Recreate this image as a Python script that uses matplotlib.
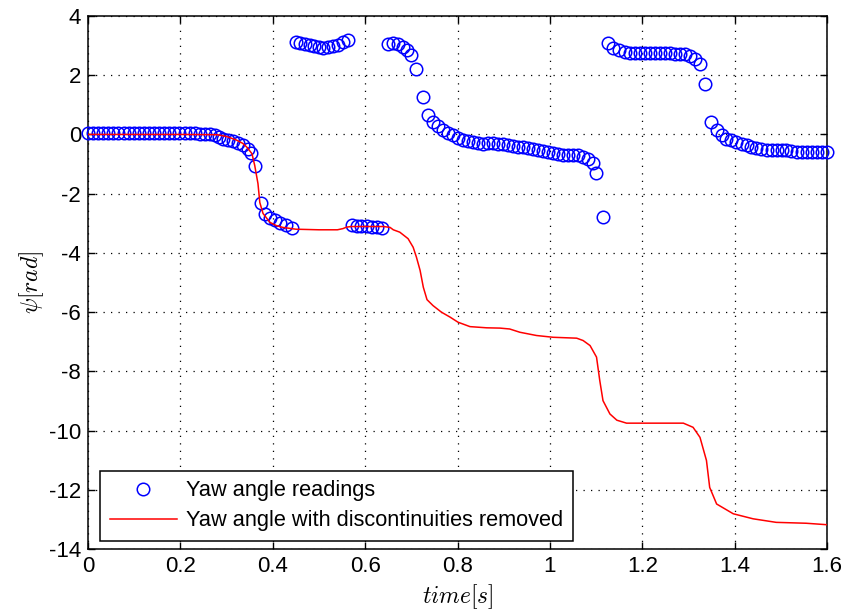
import matplotlib
matplotlib.use('Agg')
from matplotlib import pyplot as plt

# raw yaw readings, wrapped to (-pi, pi]
t_read = [0.000, 0.011, 0.022, 0.033, 0.044, 0.055, 0.066, 0.077, 0.088, 0.099,
          0.110, 0.121, 0.132, 0.143, 0.154, 0.165, 0.176, 0.187, 0.198, 0.209,
          0.220, 0.231, 0.242, 0.253, 0.264, 0.275,
          0.284, 0.293, 0.304, 0.315, 0.325, 0.336, 0.347, 0.354, 0.361, 0.374,
          0.383, 0.394, 0.405, 0.416, 0.429, 0.441,
          0.450, 0.460, 0.470, 0.480, 0.490, 0.500, 0.509, 0.520, 0.531, 0.542,
          0.552, 0.562,
          0.571, 0.582, 0.592, 0.603, 0.614, 0.625, 0.636,
          0.650, 0.661, 0.672, 0.681, 0.690, 0.700, 0.711, 0.726, 0.737, 0.747,
          0.758, 0.769, 0.780, 0.791, 0.801, 0.812, 0.823, 0.834, 0.845, 0.856,
          0.866, 0.877, 0.888, 0.899, 0.910, 0.920, 0.931, 0.942, 0.953, 0.964,
          0.975, 0.985, 0.996, 1.007, 1.018, 1.029, 1.039, 1.050, 1.061, 1.072,
          1.082, 1.093, 1.100, 1.115,
          1.126, 1.137, 1.150, 1.162, 1.173, 1.184, 1.195, 1.206, 1.216, 1.227,
          1.238, 1.249, 1.260, 1.271, 1.281, 1.292, 1.303, 1.314, 1.325, 1.335,
          1.348, 1.361, 1.372, 1.382, 1.393, 1.404, 1.415, 1.426, 1.436, 1.447,
          1.458, 1.469, 1.480, 1.491, 1.502, 1.512, 1.523, 1.534, 1.545, 1.556,
          1.567, 1.578, 1.589, 1.600]
yaw_read = [0.05, 0.05, 0.05, 0.05, 0.04, 0.05, 0.04, 0.05, 0.05, 0.04,
            0.05, 0.05, 0.04, 0.05, 0.05, 0.04, 0.05, 0.04, 0.05, 0.04,
            0.04, 0.04, 0.03, 0.03, 0.02, -0.02,
            -0.07, -0.15, -0.18, -0.23, -0.28, -0.37, -0.48, -0.63, -1.05, -2.32,
            -2.68, -2.81, -2.90, -3.00, -3.07, -3.15,
            3.12, 3.10, 3.06, 3.03, 2.98, 2.95, 2.92, 2.95, 3.00, 3.03,
            3.12, 3.18,
            -3.05, -3.10, -3.10, -3.10, -3.12, -3.12, -3.15,
            3.06, 3.09, 3.04, 2.95, 2.84, 2.67, 2.22, 1.28, 0.64, 0.42,
            0.27, 0.14, 0.04, -0.03, -0.11, -0.18, -0.23, -0.26, -0.29, -0.31,
            -0.30, -0.30, -0.31, -0.31, -0.34, -0.40, -0.42, -0.42, -0.45, -0.48,
            -0.52, -0.57, -0.60, -0.63, -0.65, -0.68, -0.68, -0.68, -0.68, -0.75,
            -0.83, -0.97, -1.31, -2.79,
            3.09, 2.93, 2.84, 2.78, 2.75, 2.75, 2.75, 2.75, 2.75, 2.75,
            2.75, 2.75, 2.74, 2.72, 2.72, 2.70, 2.64, 2.56, 2.39, 1.71,
            0.42, 0.14, -0.03, -0.15, -0.20, -0.26, -0.31, -0.37, -0.43, -0.45,
            -0.48, -0.52, -0.54, -0.54, -0.54, -0.54, -0.56, -0.58, -0.60, -0.60,
            -0.60, -0.60, -0.60, -0.60]

# continuous (unwrapped) yaw angle
t_line = [0.00, 0.10, 0.20, 0.28, 0.30, 0.32, 0.335, 0.344, 0.355, 0.361,
          0.368, 0.372, 0.379, 0.394, 0.408, 0.422, 0.45, 0.50, 0.54, 0.552,
          0.560, 0.570, 0.640, 0.654, 0.661, 0.675, 0.693, 0.704, 0.711, 0.719,
          0.726, 0.734, 0.747, 0.765, 0.784, 0.801, 0.827, 0.863, 0.892, 0.913,
          0.935, 0.971, 1.007, 1.058, 1.072, 1.087, 1.101, 1.108, 1.115, 1.130,
          1.145, 1.166, 1.289, 1.310, 1.325, 1.339, 1.346, 1.361, 1.397, 1.440,
          1.490, 1.555, 1.600]
yaw_line = [0.0, 0.0, 0.0, -0.01, -0.07, -0.18, -0.30, -0.43, -0.65, -1.05,
            -1.66, -2.30, -2.67, -2.97, -3.08, -3.14, -3.20, -3.22, -3.22, -3.18,
            -3.13, -3.11, -3.11, -3.14, -3.22, -3.30, -3.52, -3.81, -4.14, -4.59,
            -5.16, -5.58, -5.78, -6.00, -6.17, -6.34, -6.49, -6.53, -6.54, -6.57,
            -6.68, -6.79, -6.85, -6.88, -6.96, -7.13, -7.52, -8.31, -8.99, -9.44,
            -9.65, -9.75, -9.75, -9.89, -10.23, -11.01, -11.92, -12.48, -12.81, -12.98,
            -13.10, -13.13, -13.18]

plt.rcParams['font.family'] = ['Liberation Sans', 'DejaVu Sans']
plt.rcParams['mathtext.fontset'] = 'cm'
plt.rcParams['axes.unicode_minus'] = False

fig = plt.figure(figsize=(8.42, 6.15), dpi=100)
ax = fig.add_axes([0.1045, 0.1073, 0.8777, 0.8667])

ax.plot(t_read, yaw_read, 'o', color='blue', markerfacecolor='none',
        markersize=9, markeredgewidth=1.1, clip_on=False,
        label='Yaw angle readings', zorder=3)
ax.plot(t_line, yaw_line, '-', color='red', linewidth=1.1,
        label='Yaw angle with discontinuities removed', zorder=4)

ax.set_xlim(0, 1.6)
ax.set_ylim(-14, 4)
ax.set_xticks([0, 0.2, 0.4, 0.6, 0.8, 1, 1.2, 1.4, 1.6])
ax.set_xticklabels(['0', '0.2', '0.4', '0.6', '0.8', '1', '1.2', '1.4', '1.6'])
ax.set_yticks(range(-14, 5, 2))

ax.tick_params(direction='in', length=5, width=1, top=True, right=True,
               labelsize=16, pad=5, colors='black')
for s in ax.spines.values():
    s.set_linewidth(1.1)

ax.grid(True, color='black', linestyle=(0, (1, 5)), linewidth=0.9)
ax.set_axisbelow(True)

ax.set_xlabel(r'$time[s]$', fontsize=17, labelpad=4)
ax.set_ylabel(r'$\psi[rad]$', fontsize=17, labelpad=2)

leg = ax.legend(loc='lower left', bbox_to_anchor=(0.016, 0.015),
                borderaxespad=0, fontsize=15.7, fancybox=False,
                framealpha=1, edgecolor='black',
                handlelength=3.1, handletextpad=0.4, borderpad=0.45,
                labelspacing=0.4)
leg.get_frame().set_linewidth(1.1)

plt.savefig('out.png', dpi=100)
